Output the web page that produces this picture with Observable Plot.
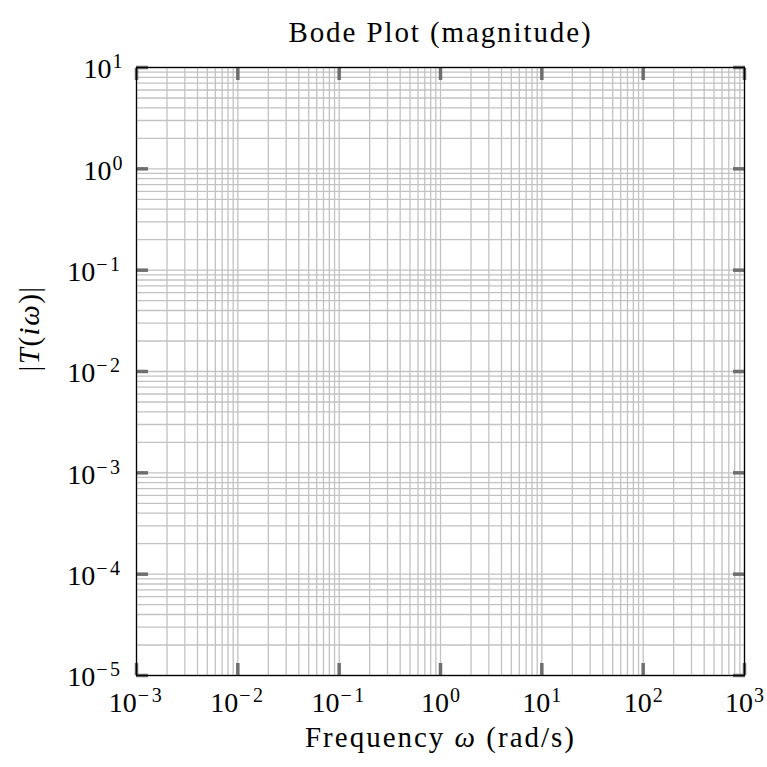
<!DOCTYPE html>
<html>
<head>
<meta charset="utf-8">
<script src="https://cdn.jsdelivr.net/npm/d3@7"></script>
<script src="https://cdn.jsdelivr.net/npm/@observablehq/plot@0.6"></script>
<style>
  html, body { margin: 0; padding: 0; background: #fff; }
  svg { display: block; }
</style>
</head>
<body>
<div id="chart"></div>
<script>
// ---- data ----
const titleText = "Bode Plot (magnitude)";
const xExponents = [-3, -2, -1, 0, 1, 2, 3];
const yExponents = [-5, -4, -3, -2, -1, 0, 1];
const minorMultipliers = [2, 3, 4, 5, 6, 7, 8, 9];

const xMajor = xExponents.map(e => Math.pow(10, e));
const yMajor = yExponents.map(e => Math.pow(10, e));
const gridFrom = (majors) => {
  const out = [];
  majors.forEach((m, i) => {
    out.push(m);
    if (i < majors.length - 1) minorMultipliers.forEach(k => out.push(k * m));
  });
  return out;
};
const xGrid = gridFrom(xMajor);
const yGrid = gridFrom(yMajor);

const FONT = "'Liberation Serif', 'DejaVu Serif', serif";
const expLabel = v => "10^" + Math.round(Math.log10(v));

const chart = Plot.plot({
  width: 767,
  height: 767,
  marginLeft: 136,
  marginRight: 23,
  marginTop: 67,
  marginBottom: 92,
  style: { fontFamily: FONT, background: "#fff" },
  x: { type: "log", domain: [1e-3, 1e3] },
  y: { type: "log", domain: [1e-5, 1e1] },
  marks: [
    Plot.ruleX(xGrid, { stroke: "#c2c2c2", strokeWidth: 1.3 }),
    Plot.ruleY(yGrid, { stroke: "#c2c2c2", strokeWidth: 1.3 }),
    // inward major ticks on all four sides
    Plot.axisX(xMajor, { anchor: "bottom", tickSize: -12, fill: "none", stroke: "#6e6e6e", strokeWidth: 3.5, label: null }),
    Plot.axisX(xMajor, { anchor: "top", tickSize: -12, fill: "none", stroke: "#6e6e6e", strokeWidth: 3.5, label: null }),
    Plot.axisY(yMajor, { anchor: "left", tickSize: -12, fill: "none", stroke: "#6e6e6e", strokeWidth: 3.5, label: null }),
    Plot.axisY(yMajor, { anchor: "right", tickSize: -12, fill: "none", stroke: "#6e6e6e", strokeWidth: 3.5, label: null }),
    // tick labels
    Plot.axisX(xMajor, { anchor: "bottom", tickSize: 0, tickPadding: 17, tickFormat: expLabel, fontSize: 28, fill: "#000", label: null, className: "explab" }),
    Plot.axisY(yMajor, { anchor: "left", tickSize: 0, tickPadding: 14, dy: 2, tickFormat: expLabel, fontSize: 28, fill: "#000", label: null, className: "explab" }),
    Plot.frame({ stroke: "#000", strokeWidth: 1.3 }),
    // title & axis labels
    Plot.text([titleText], { frameAnchor: "top", dy: -46, fontSize: 29, fill: "#000", className: "ttl" }),
    Plot.text(["Frequency ω (rad/s)"], { frameAnchor: "bottom", dy: 71, fontSize: 29, fill: "#000", className: "xlab" }),
    Plot.text(["|T(iω)|"], { frameAnchor: "left", dx: -107, rotate: -90, fontSize: 29, fill: "#000", className: "ylab" })
  ]
});

document.getElementById("chart").appendChild(chart);

// Superscript exponents on tick labels
d3.select(chart).selectAll(".explab text").each(function () {
  const t = d3.select(this);
  const s = t.text();
  const m = s.match(/^10\^(-?\d+)$/);
  if (!m) return;
  const neg = m[1].startsWith("-");
  const e = m[1].replace("-", "\u2212");
  t.text(null);
  t.append("tspan").text("10");
  const sup = t.append("tspan").attr("dy", "-0.5em").attr("font-size", "20px").attr("dx", "1").text(e);
  if (neg) sup.attr("letter-spacing", "2.5px");
});

// Italicize math symbols in axis labels
function mathify(sel, parts) {
  d3.select(chart).selectAll(sel + " text").each(function () {
    const t = d3.select(this);
    t.text(null);
    parts.forEach(([txt, it]) => {
      const ts = t.append("tspan").text(txt);
      if (it) ts.attr("font-style", "italic");
    });
  });
}
mathify(".xlab", [["Frequency ", false], ["ω", true], [" (rad/s)", false]]);
mathify(".ylab", [["|", false], ["T", true], ["(", false], ["iω", true], [")|", false]]);
d3.select(chart).selectAll(".ttl text").attr("letter-spacing", "1.9px");
d3.select(chart).selectAll(".xlab text").attr("letter-spacing", "2px");
d3.select(chart).selectAll(".ylab text").attr("letter-spacing", "1.5px");
</script>
</body>
</html>
